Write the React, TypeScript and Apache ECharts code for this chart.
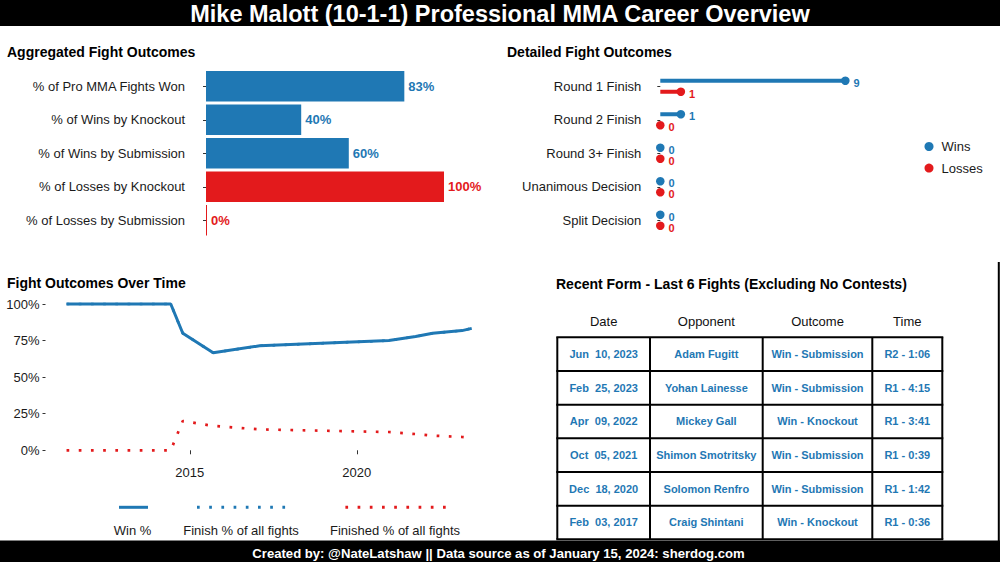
import React, { useEffect, useRef } from 'react';
import * as echarts from 'echarts';

const BLUE = '#1F78B4';
const RED = '#E31A1C';
const FONT = 'Liberation Sans, Arial, sans-serif';
const TXT = '#1a1a1a';

// Panel 1: aggregated outcomes
const aggCategories = [
  '% of Pro MMA Fights Won',
  '% of Wins by Knockout',
  '% of Wins by Submission',
  '% of Losses by Knockout',
  '% of Losses by Submission',
];
const aggValues = [83.33, 40, 60, 100, 0];
const aggIsLoss = [false, false, false, true, true];

// Panel 2: detailed outcomes
const detailCategories = ['Round 1 Finish', 'Round 2 Finish', 'Round 3+ Finish', 'Unanimous Decision', 'Split Decision'];
const detailWins = [9, 1, 0, 0, 0];
const detailLosses = [1, 0, 0, 0, 0];

// Panel 3: outcomes over time (decimal years)
const fightYears = [2011.31, 2014.43, 2014.79, 2015.7, 2017.09, 2020.96, 2021.76, 2022.27, 2023.15, 2023.44];
const winPct = [100, 100, 80, 66.67, 71.43, 75, 77.78, 80, 81.82, 83.33];
const finishPct = [100, 100, 80, 66.67, 71.43, 75, 77.78, 80, 81.82, 83.33];
const finishedPct = [0, 0, 20, 16.67, 14.29, 12.5, 11.11, 10, 9.09, 8.33];
const yearTicks = [2015, 2020];
const pctTicks = [0, 25, 50, 75, 100];
const timeLegend = ['Win %', 'Finish % of all fights', 'Finished % of all fights'];

// Panel 4: recent form table
const tableHeaders = ['Date', 'Opponent', 'Outcome', 'Time'];
const tableDates = ['Jun  10, 2023', 'Feb  25, 2023', 'Apr  09, 2022', 'Oct  05, 2021', 'Dec  18, 2020', 'Feb  03, 2017'];
const tableOpponents = ['Adam Fugitt', 'Yohan Lainesse', 'Mickey Gall', 'Shimon Smotritsky', 'Solomon Renfro', 'Craig Shintani'];
const tableOutcomes = ['Win - Submission', 'Win - Submission', 'Win - Knockout', 'Win - Submission', 'Win - Submission', 'Win - Knockout'];
const tableTimes = ['R2 - 1:06', 'R1 - 4:15', 'R1 - 3:41', 'R1 - 0:39', 'R1 - 1:42', 'R1 - 0:36'];

const footerText = 'Created by: @NateLatshaw || Data source as of January 15, 2024: sherdog.com';

function measure(text: string, font: string): number {
  try {
    const ctx = document.createElement('canvas').getContext('2d');
    if (!ctx) return 0;
    ctx.font = font;
    return ctx.measureText(text).width;
  } catch (e) {
    return 0;
  }
}

function buildOption() {
  const pairs = (ys: number[]) => fightYears.map((x, i) => [x, ys[i]]);

  // table graphic
  const colEdges = [557.3, 650, 762.7, 872.3, 942.3];
  const rowTop = 337.3;
  const rowH = 33.67;
  const columns = [tableDates, tableOpponents, tableOutcomes, tableTimes];
  const tableEls: any[] = [];
  tableHeaders.forEach((h, c) => {
    tableEls.push({
      type: 'text',
      x: (colEdges[c] + colEdges[c + 1]) / 2,
      y: 321.7,
      style: { text: h, fill: '#111', font: `13px ${FONT}`, textAlign: 'center', textVerticalAlign: 'middle' },
    });
  });
  columns.forEach((col, c) => {
    col.forEach((v, r) => {
      tableEls.push({
        type: 'text',
        x: (colEdges[c] + colEdges[c + 1]) / 2,
        y: rowTop + rowH * (r + 0.5),
        style: { text: v, fill: BLUE, font: `bold 11px ${FONT}`, textAlign: 'center', textVerticalAlign: 'middle' },
      });
    });
  });
  for (let r = 0; r <= tableDates.length; r++) {
    const y = rowTop + rowH * r;
    tableEls.push({ type: 'line', shape: { x1: colEdges[0] - 1, y1: y, x2: colEdges[4] + 1, y2: y }, style: { stroke: '#000', lineWidth: 2 } });
  }
  colEdges.forEach((x) => {
    tableEls.push({ type: 'line', shape: { x1: x, y1: rowTop, x2: x, y2: rowTop + rowH * tableDates.length }, style: { stroke: '#000', lineWidth: 2 } });
  });

  // time legend graphic
  const legKeys = [
    { x1: 119, x2: 148, color: BLUE, dash: null as any },
    { x1: 197, x2: 287, color: BLUE, dash: [2.7, 9.5] },
    { x1: 345.4, x2: 447, color: RED, dash: [2.7, 9.5] },
  ];
  const legCenters = [132.5, 241, 395];
  const legendEls: any[] = [];
  legKeys.forEach((k, i) => {
    legendEls.push({
      type: 'line',
      shape: { x1: k.x1, y1: 507.3, x2: k.x2, y2: 507.3 },
      style: { stroke: k.color, lineWidth: 3, lineDash: k.dash || undefined },
    });
    legendEls.push({
      type: 'text',
      x: legCenters[i],
      y: 530,
      style: { text: timeLegend[i], fill: TXT, font: `13px ${FONT}`, textAlign: 'center', textVerticalAlign: 'middle' },
    });
  });

  // footer (condensed look)
  const footerFont = `bold 13px ${FONT}`;
  const fw = measure(footerText, footerFont);
  const footerScale = fw > 0 ? 493 / fw : 0.9;

  const catAxisCommon = {
    type: 'category',
    inverse: true,
    axisLine: { show: false },
    axisTick: { show: true, length: 3, alignWithLabel: true, lineStyle: { color: '#333' } },
    axisLabel: { fontSize: 13, color: TXT, margin: 7, fontFamily: FONT },
    splitLine: { show: false },
  };

  return {
    animation: false,
    backgroundColor: '#fff',
    textStyle: { fontFamily: FONT },
    title: [
      { text: 'Mike Malott (10-1-1) Professional MMA Career Overview', left: 'center', top: 2.5, padding: 0,
        textStyle: { color: '#fff', fontSize: 23.5, fontWeight: 'bold', fontFamily: FONT, lineHeight: 23 } },
      { text: 'Aggregated Fight Outcomes', left: 7, top: 45, padding: 0,
        textStyle: { color: '#000', fontSize: 14, fontWeight: 'bold', fontFamily: FONT, lineHeight: 14 } },
      { text: 'Detailed Fight Outcomes', left: 507, top: 45, padding: 0,
        textStyle: { color: '#000', fontSize: 14, fontWeight: 'bold', fontFamily: FONT, lineHeight: 14 } },
      { text: 'Fight Outcomes Over Time', left: 7, top: 276, padding: 0,
        textStyle: { color: '#000', fontSize: 14, fontWeight: 'bold', fontFamily: FONT, lineHeight: 14 } },
      { text: 'Recent Form - Last 6 Fights (Excluding No Contests)', left: 556, top: 277, padding: 0,
        textStyle: { color: '#000', fontSize: 14, fontWeight: 'bold', fontFamily: FONT, lineHeight: 14 } },
    ],
    graphic: [
      { type: 'rect', z: -10, shape: { x: 0, y: 0, width: 1000, height: 26 }, style: { fill: '#000' } },
      { type: 'rect', z: -10, shape: { x: 0, y: 540.5, width: 1000, height: 22 }, style: { fill: '#000' } },
      { type: 'line', shape: { x1: 998.8, y1: 262, x2: 998.8, y2: 541 }, style: { stroke: '#000', lineWidth: 2 } },
      {
        type: 'text', x: 498.5, y: 553.5, scaleX: footerScale, z: 10,
        style: { text: footerText, fill: '#fff', font: footerFont, textAlign: 'center', textVerticalAlign: 'middle' },
      },
      ...tableEls,
      ...legendEls,
    ],
    legend: {
      data: [{ name: 'Wins', icon: 'circle' }, { name: 'Losses', icon: 'circle' }],
      orient: 'vertical',
      left: 924.5,
      top: 139.5,
      itemWidth: 9,
      itemHeight: 9,
      itemGap: 7.6,
      padding: 0,
      textStyle: { fontSize: 13, color: TXT, fontFamily: FONT, lineHeight: 14, padding: [0, 0, 0, 3] },
    },
    grid: [
      { left: 206, top: 69.5, width: 238, height: 167.5 },
      { left: 660.3, top: 69.5, width: 205.6, height: 167.5 },
      { left: 45.5, top: 296.7, width: 446.6, height: 160.9 },
    ],
    xAxis: [
      { type: 'value', gridIndex: 0, min: 0, max: 100, show: false },
      { type: 'value', gridIndex: 1, min: 0, max: 10, show: false },
      {
        type: 'value', gridIndex: 2, min: 2010.68, max: 2024.05,
        axisLine: { show: false },
        splitLine: { show: false },
        axisTick: { show: true, length: 4, customValues: yearTicks, lineStyle: { color: '#333' } },
        axisLabel: { customValues: yearTicks, fontSize: 13, color: TXT, margin: 8, fontFamily: FONT, formatter: (v: number) => String(v) },
      },
    ],
    yAxis: [
      { ...catAxisCommon, gridIndex: 0, data: aggCategories, offset: 14 },
      { ...catAxisCommon, gridIndex: 1, data: detailCategories, offset: 12 },
      {
        type: 'value', gridIndex: 2, min: -5, max: 105,
        axisLine: { show: false },
        splitLine: { show: false },
        axisTick: { show: true, length: 3, customValues: pctTicks, lineStyle: { color: '#333' } },
        axisLabel: { customValues: pctTicks, fontSize: 13, color: TXT, margin: 6, fontFamily: FONT, formatter: (v: number) => `${v}%` },
      },
    ],
    series: [
      {
        type: 'bar', xAxisIndex: 0, yAxisIndex: 0,
        barCategoryGap: '9%',
        barMinHeight: 1,
        data: aggValues.map((v, i) => ({
          value: v,
          itemStyle: { color: aggIsLoss[i] ? RED : BLUE },
          label: { color: aggIsLoss[i] ? RED : BLUE },
        })),
        label: {
          show: true, position: 'right', distance: 4, fontWeight: 'bold', fontSize: 13, fontFamily: FONT,
          formatter: (p: any) => `${Math.round(p.value)}%`,
        },
      },
      {
        name: 'Wins', type: 'bar', xAxisIndex: 1, yAxisIndex: 1, barWidth: 4, barGap: '175%',
        itemStyle: { color: BLUE }, data: detailWins,
      },
      {
        name: 'Losses', type: 'bar', xAxisIndex: 1, yAxisIndex: 1, barWidth: 4, barGap: '175%',
        itemStyle: { color: RED }, data: detailLosses,
      },
      {
        name: 'Wins', type: 'scatter', xAxisIndex: 1, yAxisIndex: 1, symbolSize: 8.5, symbolOffset: [0, -5.5],
        itemStyle: { color: BLUE, opacity: 1 }, data: detailWins,
        label: { show: true, position: 'right', distance: 4, offset: [0, 2], fontWeight: 'bold', fontSize: 11, color: BLUE, fontFamily: FONT },
      },
      {
        name: 'Losses', type: 'scatter', xAxisIndex: 1, yAxisIndex: 1, symbolSize: 8.5, symbolOffset: [0, 5.5],
        itemStyle: { color: RED, opacity: 1 }, data: detailLosses,
        label: { show: true, position: 'right', distance: 4, offset: [0, 2], fontWeight: 'bold', fontSize: 11, color: RED, fontFamily: FONT },
      },
      {
        name: 'Finish % of all fights', type: 'line', xAxisIndex: 2, yAxisIndex: 2, symbol: 'none',
        lineStyle: { color: BLUE, width: 2.7, type: [2.7, 9.5], cap: 'butt' }, data: pairs(finishPct),
      },
      {
        name: 'Win %', type: 'line', xAxisIndex: 2, yAxisIndex: 2, symbol: 'none',
        lineStyle: { color: BLUE, width: 3 }, data: pairs(winPct),
      },
      {
        name: 'Finished % of all fights', type: 'line', xAxisIndex: 2, yAxisIndex: 2, symbol: 'none',
        lineStyle: { color: RED, width: 2.7, type: [2.7, 9.5], cap: 'butt' }, data: pairs(finishedPct),
      },
    ],
  };
}

export default function App() {
  const ref = useRef<HTMLDivElement>(null);
  useEffect(() => {
    const chart = echarts.init(ref.current!, null, { renderer: 'svg' });
    chart.setOption(buildOption() as any);
    return () => chart.dispose();
  }, []);
  return (
    <div
      ref={ref}
      style={{ position: 'absolute', left: 0, top: 0, width: 1000, height: 562, background: '#fff' }}
    />
  );
}
